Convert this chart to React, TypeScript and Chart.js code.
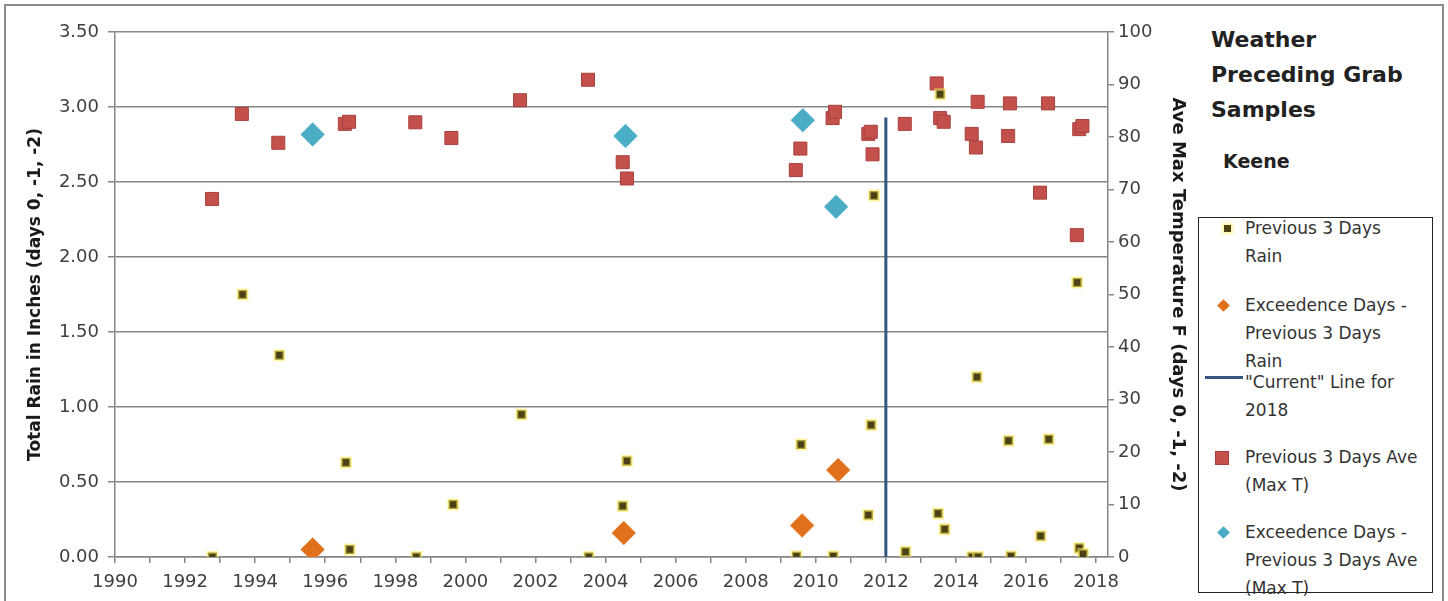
import React, { useEffect, useRef } from 'react';
import { Chart, registerables } from 'chart.js';

Chart.register(...registerables);

const FONT = '"DejaVu Sans", "Liberation Sans", sans-serif';

// Previous 3 days rain (left axis, inches)
const rainYears = [1992.78, 1993.64, 1994.69, 1996.59, 1996.70, 1998.60, 1999.65, 2001.60, 2003.52, 2004.49, 2004.61, 2009.45, 2009.58, 2010.50, 2011.50, 2011.58, 2011.66, 2012.56, 2013.49, 2013.55, 2013.68, 2014.46, 2014.60, 2014.63, 2015.50, 2015.57, 2016.42, 2016.65, 2017.46, 2017.52, 2017.63];
const rainInches = [0.00, 1.75, 1.345, 0.63, 0.05, 0.00, 0.35, 0.95, 0.00, 0.34, 0.64, 0.005, 0.75, 0.005, 0.28, 0.88, 2.41, 0.035, 0.29, 3.085, 0.185, 0.00, 1.20, 0.00, 0.775, 0.005, 0.14, 0.785, 1.83, 0.06, 0.02];

// Exceedence days - previous 3 days rain
const exRainYears = [1995.64, 2004.52, 2009.61, 2010.64];
const exRainInches = [0.05, 0.16, 0.21, 0.58];

// "Current" line for 2018
const currentYears = [2012, 2012];
const currentInches = [0, 2.93];

// Previous 3 days average max temperature (right axis, F)
const tempYears = [1992.77, 1993.62, 1994.66, 1996.56, 1996.68, 1998.57, 1999.60, 2001.56, 2003.50, 2004.49, 2004.61, 2009.43, 2009.56, 2010.48, 2010.55, 2011.50, 2011.57, 2011.62, 2012.54, 2013.45, 2013.55, 2013.65, 2014.45, 2014.57, 2014.62, 2015.49, 2015.54, 2016.40, 2016.63, 2017.45, 2017.52, 2017.61];
const tempF = [68.2, 84.4, 78.9, 82.5, 82.9, 82.8, 79.8, 87.0, 90.9, 75.2, 72.1, 73.7, 77.8, 83.6, 84.8, 80.6, 81.0, 76.7, 82.5, 90.2, 83.6, 82.9, 80.6, 78.0, 86.7, 80.2, 86.4, 69.4, 86.4, 61.3, 81.5, 82.1];

// Exceedence days - previous 3 days average max temperature
const exTempYears = [1995.64, 2004.57, 2009.63, 2010.58];
const exTempF = [80.5, 80.2, 83.2, 66.7];

// X axis ticks (one per year, labels every second year)
const xTickYears = [1990, 1991, 1992, 1993, 1994, 1995, 1996, 1997, 1998, 1999, 2000, 2001, 2002, 2003, 2004, 2005, 2006, 2007, 2008, 2009, 2010, 2011, 2012, 2013, 2014, 2015, 2016, 2017, 2018];

const legendEntries = [
  { lines: ['Previous 3 Days', 'Rain'], top: 228, marker: 'rain' },
  { lines: ['Exceedence Days -', 'Previous 3 Days', 'Rain'], top: 305, marker: 'exRain' },
  { lines: ['"Current" Line for', '2018'], top: 382, marker: 'line' },
  { lines: ['Previous 3 Days Ave', '(Max T)'], top: 457, marker: 'temp' },
  { lines: ['Exceedence Days -', 'Previous 3 Days Ave', '(Max T)'], top: 532, marker: 'exTemp' },
];

const toPoints = (xs: number[], ys: number[]) => xs.map((x, i) => ({ x, y: ys[i] }));

function Marker({ kind, cy }: { kind: string; cy: number }) {
  const base: React.CSSProperties = { position: 'absolute' };
  if (kind === 'rain') {
    return <div style={{ ...base, left: 1224, top: cy - 3.5, width: 7, height: 7, background: '#4a4216', boxShadow: '0 0 3px 2px rgba(255,236,90,0.6)' }} />;
  }
  if (kind === 'exRain') {
    return <div style={{ ...base, left: 1219, top: cy - 4.5, width: 9, height: 9, background: '#e0701c', transform: 'rotate(45deg)' }} />;
  }
  if (kind === 'line') {
    return <div style={{ ...base, left: 1205, top: cy - 6, width: 38, height: 3, background: '#35567e' }} />;
  }
  if (kind === 'temp') {
    return <div style={{ ...base, left: 1215, top: cy - 6.5, width: 12, height: 12, background: '#c4504c', border: '1px solid #a9403d' }} />;
  }
  return <div style={{ ...base, left: 1219, top: cy - 4.5, width: 9, height: 9, background: '#4bacc6', transform: 'rotate(45deg)' }} />;
}

export default function App() {
  const ref = useRef<HTMLCanvasElement>(null);

  useEffect(() => {
    const canvas = ref.current;
    if (!canvas) return;
    const gridColor = '#868686';
    const tickFont = { family: FONT, size: 18 };
    const chart = new Chart(canvas, {
      type: 'scatter',
      data: {
        datasets: [
          {
            label: 'Previous 3 Days Rain',
            data: toPoints(rainYears, rainInches),
            yAxisID: 'y',
            pointStyle: 'rect',
            pointRadius: 6.4,
            backgroundColor: '#4a4216',
            borderColor: 'rgba(255,236,90,0.55)',
            borderWidth: 2.8,
          },
          {
            label: 'Exceedence Days - Previous 3 Days Rain',
            data: toPoints(exRainYears, exRainInches),
            yAxisID: 'y',
            pointStyle: 'rectRot',
            pointRadius: 12,
            backgroundColor: '#e0701c',
            borderColor: 'rgba(240,160,90,0.5)',
            borderWidth: 1,
          },
          {
            label: '"Current" Line for 2018',
            data: toPoints(currentYears, currentInches),
            yAxisID: 'y',
            showLine: true,
            pointRadius: 0,
            borderColor: '#35567e',
            borderWidth: 3,
          },
          {
            label: 'Previous 3 Days Ave (Max T)',
            data: toPoints(tempYears, tempF),
            yAxisID: 'y1',
            pointStyle: 'rect',
            pointRadius: 9.2,
            backgroundColor: '#c4504c',
            borderColor: '#a9403d',
            borderWidth: 1,
          },
          {
            label: 'Exceedence Days - Previous 3 Days Ave (Max T)',
            data: toPoints(exTempYears, exTempF),
            yAxisID: 'y1',
            pointStyle: 'rectRot',
            pointRadius: 12,
            backgroundColor: '#4bacc6',
            borderColor: 'rgba(120,200,220,0.5)',
            borderWidth: 1,
          },
        ],
      },
      options: {
        animation: false,
        responsive: false,
        layout: { padding: { top: 32, left: 0, right: 0, bottom: 0 } },
        plugins: { legend: { display: false }, tooltip: { enabled: false } },
        scales: {
          x: {
            type: 'linear',
            min: 1990,
            max: 2018.34,
            afterBuildTicks: (scale: any) => {
              scale.ticks = xTickYears.map((v) => ({ value: v }));
            },
            afterFit: (scale: any) => {
              scale.height = 44;
            },
            grid: { drawOnChartArea: false, tickLength: 6, color: gridColor, lineWidth: 1.5 },
            border: { color: gridColor, width: 1.5 },
            ticks: {
              autoSkip: false,
              maxRotation: 0,
              padding: 9,
              font: tickFont,
              color: '#404040',
              callback: (v: any) => (Math.round(Number(v)) % 2 === 0 ? String(Math.round(Number(v))) : ''),
            },
          },
          y: {
            position: 'left',
            min: 0,
            max: 3.5,
            afterFit: (scale: any) => {
              scale.width = 115;
            },
            grid: { color: gridColor, lineWidth: 1.5, tickLength: 7 },
            border: { color: gridColor, width: 1.5 },
            ticks: {
              stepSize: 0.5,
              padding: 9,
              font: tickFont,
              color: '#404040',
              callback: (v: any) => Number(v).toFixed(2),
            },
            title: {
              display: true,
              text: 'Total Rain in Inches (days 0, -1, -2)',
              font: { family: FONT, size: 17, weight: 'bold' },
              color: '#1a1a1a',
              padding: { top: 25, bottom: 0 },
            },
          },
          y1: {
            position: 'right',
            min: 0,
            max: 100,
            afterFit: (scale: any) => {
              scale.width = 82;
            },
            grid: { drawOnChartArea: false, tickLength: 6, color: gridColor, lineWidth: 1.5 },
            border: { color: gridColor, width: 1.5 },
            ticks: {
              stepSize: 10,
              padding: 4,
              font: tickFont,
              color: '#404040',
            },
            title: {
              display: true,
              text: 'Ave Max Temperature F (days 0, -1, -2)',
              font: { family: FONT, size: 18, weight: 'bold' },
              color: '#1a1a1a',
              padding: { top: 2, bottom: 0 },
            },
          },
        },
      },
    } as any);
    return () => chart.destroy();
  }, []);

  const titleStyle: React.CSSProperties = {
    position: 'absolute',
    left: 1211,
    top: 22,
    fontFamily: FONT,
    fontWeight: 'bold',
    fontSize: 22,
    lineHeight: '35px',
    color: '#222',
    whiteSpace: 'nowrap',
  };

  return (
    <div style={{ position: 'absolute', left: 0, top: 0, width: 1448, height: 601, overflow: 'hidden', background: '#fff' }}>
      <div style={{ position: 'absolute', left: 4, top: 4, width: 1436, height: 640, border: '2px solid #8c8c8c' }} />
      <canvas ref={ref} width={1190} height={601} style={{ position: 'absolute', left: 0, top: 0, width: 1190, height: 601 }} />
      <div style={titleStyle}>
        Weather<br />Preceding Grab<br />Samples
      </div>
      <div style={{ position: 'absolute', left: 1223, top: 148, fontFamily: FONT, fontWeight: 'bold', fontSize: 19, lineHeight: '26px', color: '#222' }}>
        Keene
      </div>
      <div style={{ position: 'absolute', left: 1198, top: 217, width: 233, height: 374, border: '1.5px solid #222', background: '#fff' }} />
      {legendEntries.map((e, i) => (
        <React.Fragment key={i}>
          <Marker kind={e.marker} cy={e.top} />
          <div style={{ position: 'absolute', left: 1245, top: e.top - 14, fontFamily: FONT, fontSize: 17, lineHeight: '28px', color: '#333', whiteSpace: 'nowrap' }}>
            {e.lines.map((l, j) => (
              <React.Fragment key={j}>
                {l}
                {j < e.lines.length - 1 ? <br /> : null}
              </React.Fragment>
            ))}
          </div>
        </React.Fragment>
      ))}
    </div>
  );
}
